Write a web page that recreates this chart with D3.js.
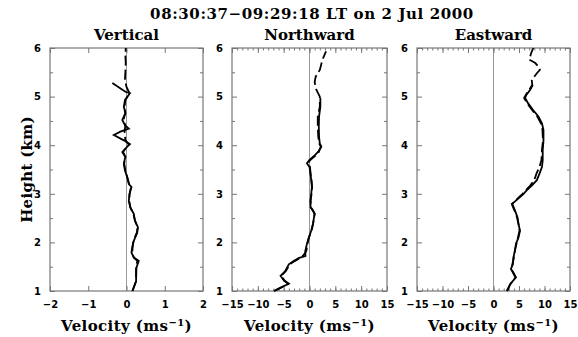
<!DOCTYPE html>
<html>
<head>
<meta charset="utf-8">
<script src="https://cdn.jsdelivr.net/npm/d3@7"></script>
<style>
  body { margin: 0; background: #fff; }
  .tick text { font-family: "DejaVu Sans", sans-serif; font-weight: bold; font-size: 10px; fill: #000; }
  .lbl { font-family: "DejaVu Serif", serif; font-weight: bold; fill: #000; }
</style>
</head>
<body>
<svg width="578" height="337"></svg>
<script>
// ---- data: [height km, velocity m/s] ----
var title = "08:30:37\u221209:29:18 LT on 2 Jul 2000";
var panelNames = ["Vertical", "Northward", "Eastward"];
var heightTicks = [1, 2, 3, 4, 5, 6];
var vertTicks = [-2, -1, 0, 1, 2];
var horizTicks = [-15, -10, -5, 0, 5, 10, 15];

var vertSolid = [[1.0,0.15],[1.2,0.25],[1.48,0.26],[1.62,0.32],[1.69,0.19],[1.79,0.13],[1.9,0.15],[2.03,0.19],
  [2.2,0.28],[2.31,0.30],[2.45,0.22],[2.59,0.19],[2.72,0.10],[2.86,0.06],[3.0,0.08],[3.14,0.13],[3.2,0.06],
  [3.34,0.02],[3.48,-0.04],[3.62,-0.07],[3.76,-0.03],[3.86,-0.11],[3.97,0.02],[4.02,0.09],[4.1,-0.07],
  [4.21,-0.33],[4.28,-0.16],[4.34,0.06],[4.41,-0.04],[4.52,-0.11],[4.66,-0.03],[4.79,-0.07],[4.93,-0.04],
  [5.07,0.09],[5.1,-0.03],[5.28,-0.37]];
var vertDash = [[1.0,0.16],[1.2,0.25],[1.48,0.25],[1.62,0.28],[1.69,0.19],[1.79,0.15],[1.9,0.16],[2.03,0.18],
  [2.2,0.27],[2.31,0.29],[2.45,0.22],[2.59,0.18],[2.72,0.10],[2.86,0.07],[3.0,0.08],[3.14,0.12],[3.2,0.07],
  [3.34,0.02],[3.48,-0.03],[3.62,-0.06],[3.76,-0.03],[3.86,-0.09],[3.97,0.01],[4.02,0.06],[4.1,-0.03],
  [4.28,-0.05],[4.41,-0.03],[4.52,-0.08],[4.66,-0.03],[4.79,-0.05],[4.93,-0.03],[5.07,0.08],[5.2,0.0],
  [5.35,-0.04],[5.5,-0.03],[5.7,-0.02],[5.85,-0.03],[6.0,-0.02]];

var northSolid = [[1.0,-6.9],[1.07,-5.6],[1.15,-4.0],[1.21,-4.9],[1.31,-5.6],[1.41,-4.7],[1.55,-4.0],[1.62,-3.0],
  [1.68,-2.0],[1.72,-0.8],[1.83,-0.8],[1.97,-0.5],[2.1,-0.13],[2.24,0.33],[2.38,0.66],[2.59,1.0],[2.66,0.66],
  [2.72,0.2],[2.86,0.2],[3.0,0.33],[3.14,0.46],[3.28,0.33],[3.41,0.2],[3.55,0.0],[3.63,-0.5],[3.7,0.0],
  [3.79,1.0],[3.86,1.65],[3.97,2.3],[4.03,2.0],[4.17,1.85],[4.38,1.8],[4.59,1.85],[4.79,2.1],[4.97,2.1]];
var northDash = [[1.0,-6.8],[1.07,-5.5],[1.15,-4.1],[1.21,-4.8],[1.31,-5.5],[1.41,-4.6],[1.55,-3.8],[1.62,-2.8],
  [1.7,-1.5],[1.76,-1.0],[1.83,-0.6],[1.97,-0.4],[2.1,-0.1],[2.24,0.4],[2.38,0.7],[2.59,1.0],[2.66,0.6],
  [2.72,0.3],[2.86,0.2],[3.0,0.4],[3.14,0.5],[3.28,0.4],[3.41,0.2],[3.55,0.1],[3.63,-0.3],[3.7,0.2],
  [3.79,1.2],[3.86,1.8],[3.97,2.2],[4.03,1.9],[4.17,1.7],[4.38,1.6],[4.59,1.6],[4.79,2.0],[5.0,2.0],
  [5.17,1.2],[5.3,1.0],[5.41,1.2],[5.55,2.0],[5.76,2.5],[5.93,3.2]];

var eastSolid = [[1.0,2.6],[1.14,3.26],[1.28,4.4],[1.38,3.9],[1.45,3.4],[1.55,3.8],[1.69,3.9],[1.83,4.2],
  [1.97,4.4],[2.1,4.9],[2.24,5.2],[2.38,4.9],[2.52,4.7],[2.66,4.2],[2.76,3.8],[2.79,3.6],[2.86,4.4],
  [2.93,5.2],[3.0,5.9],[3.07,6.5],[3.17,7.5],[3.28,8.5],[3.41,9.0],[3.55,9.5],[3.69,9.65],[3.9,9.65],
  [4.1,9.8],[4.31,9.8],[4.45,9.5],[4.59,8.8],[4.72,7.8],[4.86,6.8],[4.97,6.2],[5.03,6.4],[5.14,7.2],[5.24,7.7]];
var eastDash = [[1.0,2.7],[1.14,3.3],[1.28,4.3],[1.38,3.8],[1.45,3.5],[1.55,3.7],[1.69,4.0],[1.83,4.2],
  [1.97,4.5],[2.1,4.8],[2.24,5.1],[2.38,4.9],[2.52,4.6],[2.66,4.1],[2.76,3.7],[2.79,3.7],[2.86,4.3],
  [2.93,5.0],[3.0,5.7],[3.07,6.3],[3.17,7.2],[3.28,8.0],[3.41,8.4],[3.55,9.0],[3.69,9.4],[3.9,9.5],
  [4.1,9.7],[4.31,9.6],[4.45,9.3],[4.59,8.6],[4.72,7.6],[4.86,6.6],[4.97,6.0],[5.03,6.3],[5.14,7.0],
  [5.24,7.6],[5.34,7.5],[5.48,8.5],[5.55,9.1],[5.62,8.8],[5.69,8.2],[5.76,7.0],[5.9,7.4],[6.0,7.8]];

var panels = [
  {name: panelNames[0], left: 50,  right: 203, domain: [-2, 2],   ticks: vertTicks,  minor: [],  solid: vertSolid,  dash: vertDash},
  {name: panelNames[1], left: 232, right: 387, domain: [-15, 15], ticks: horizTicks, minor: d3.range(-15, 16, 1), solid: northSolid, dash: northDash},
  {name: panelNames[2], left: 417, right: 570, domain: [-15, 15], ticks: horizTicks, minor: d3.range(-15, 16, 1), solid: eastSolid,  dash: eastDash}
];

function draw() {
  var svg = d3.select("svg");
  var yTop = 48, yBottom = 291;

  var y = d3.scaleLinear().domain([1, 6]).range([yBottom, yTop]);
  var yMinor = d3.range(1.5, 6, 1);

  svg.append("text")
      .attr("class", "lbl")
      .attr("x", 312).attr("y", 19)
      .attr("text-anchor", "middle")
      .style("font-size", "15px")
      .style("letter-spacing", "0.6px")
      .text(title);

  svg.append("text")
      .attr("class", "lbl")
      .attr("transform", "translate(32," + ((yTop + yBottom) / 2) + ") rotate(-90)")
      .attr("text-anchor", "middle")
      .style("font-size", "15px")
      .style("letter-spacing", "0.3px")
      .text("Height (km)");

  panels.forEach(function(p) {
    var x = d3.scaleLinear().domain(p.domain).range([p.left, p.right]);
    var g = svg.append("g");
    var cx = (p.left + p.right) / 2;

    // zero line
    g.append("line")
        .attr("x1", x(0)).attr("x2", x(0))
        .attr("y1", yTop).attr("y2", yBottom)
        .attr("stroke", "#999").attr("stroke-width", 1);

    // minor x ticks
    if (p.minor.length) {
      g.append("g").attr("transform", "translate(0," + yBottom + ")")
          .call(d3.axisBottom(x).tickValues(p.minor).tickSize(-2.5).tickFormat(""));
      g.append("g").attr("transform", "translate(0," + yTop + ")")
          .call(d3.axisTop(x).tickValues(p.minor).tickSize(-2.5).tickFormat(""));
    }
    // major x ticks
    g.append("g").attr("transform", "translate(0," + yBottom + ")")
        .call(d3.axisBottom(x).tickValues(p.ticks).tickSize(-5).tickPadding(10)
          .tickFormat(function(d) { return d < 0 ? "\u2212" + (-d) : d; }));
    g.append("g").attr("transform", "translate(0," + yTop + ")")
        .call(d3.axisTop(x).tickValues(p.ticks).tickSize(-5).tickFormat(""));

    // y ticks
    g.append("g").attr("transform", "translate(" + p.left + ",0)")
        .call(d3.axisLeft(y).tickValues(yMinor).tickSize(-3).tickFormat(""));
    g.append("g").attr("transform", "translate(" + p.right + ",0)")
        .call(d3.axisRight(y).tickValues(yMinor).tickSize(-3).tickFormat(""));
    g.append("g").attr("transform", "translate(" + p.left + ",0)")
        .call(d3.axisLeft(y).tickValues(heightTicks).tickSize(-5).tickPadding(9).tickFormat(d3.format("d")));
    g.append("g").attr("transform", "translate(" + p.right + ",0)")
        .call(d3.axisRight(y).tickValues(heightTicks).tickSize(-5).tickFormat(""));

    g.selectAll(".domain").remove();
    g.selectAll(".tick line").attr("stroke", "#777");

    // frame
    g.append("rect")
        .attr("x", p.left).attr("y", yTop)
        .attr("width", p.right - p.left).attr("height", yBottom - yTop)
        .attr("fill", "none").attr("stroke", "#777").attr("stroke-width", 1.2);

    var line = d3.line()
        .x(function(d) { return x(d[1]); })
        .y(function(d) { return y(d[0]); });

    g.append("path").datum(p.dash)
        .attr("d", line)
        .attr("fill", "none").attr("stroke", "#000")
        .attr("stroke-width", 1.8)
        .attr("stroke-dasharray", "10,4");
    g.append("path").datum(p.solid)
        .attr("d", line)
        .attr("fill", "none").attr("stroke", "#000")
        .attr("stroke-width", 1.8);

    g.append("text")
        .attr("class", "lbl")
        .attr("x", cx).attr("y", 40)
        .attr("text-anchor", "middle")
        .style("font-size", "15px")
        .text(p.name);

    var lab = g.append("text")
        .attr("class", "lbl")
        .attr("x", cx).attr("y", 331)
        .attr("text-anchor", "middle")
        .style("font-size", "15px")
        .style("letter-spacing", "0.4px");
    lab.append("tspan").text("Velocity (ms");
    lab.append("tspan").attr("dy", -5).style("font-size", "10px").text("\u22121");
    lab.append("tspan").attr("dy", 5).text(")");
  });
}

draw();
</script>
</body>
</html>
